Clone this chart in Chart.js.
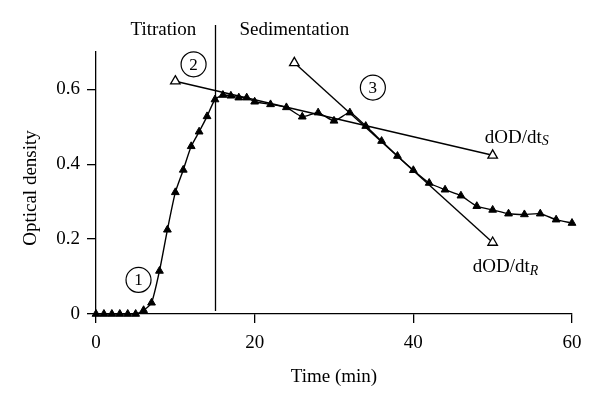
<!DOCTYPE html>
<html>
<head>
<meta charset="utf-8">
<script src="https://cdn.jsdelivr.net/npm/chart.js@4/dist/chart.umd.min.js"></script>
<style>
  body { margin: 0; background: #fff; }
  #wrap { width: 600px; height: 403px; }
</style>
</head>
<body>
<div id="wrap"><canvas id="odChart"></canvas></div>
<script>
const times = [0, 1, 2, 3, 4, 5, 6, 7, 8, 9, 10, 11, 12, 13, 14, 15, 16, 17, 18, 19, 20,
    22, 24, 26, 28, 30, 32, 34, 36, 38, 40, 42, 44, 46, 48, 50, 52, 54, 56, 58, 60]
const odValues = [0, 0, 0, 0, 0, 0, 0.01, 0.03, 0.115, 0.225, 0.325, 0.385, 0.448, 0.487, 0.528, 0.573,
    0.585, 0.583, 0.578, 0.578, 0.567,
    0.56, 0.552, 0.527, 0.538, 0.516, 0.538, 0.502, 0.462, 0.422, 0.384, 0.35, 0.332, 0.316, 0.288,
    0.278, 0.268, 0.266, 0.268, 0.252, 0.243]
// tangent lines: [start, end]
const slopeSTimes = [10, 50]
const slopeSValues = [0.622, 0.424]
const slopeRTimes = [25, 50]
const slopeRValues = [0.671, 0.191]
const yTicks = [0, 0.2, 0.4, 0.6]
const phaseSplit = 15

const FONT = "'Liberation Serif', 'DejaVu Serif', serif"

const toPoints = (xs, ys) => xs.map((x, i) => ({ x: x, y: ys[i] }))

// text, circles and phase line
const annotations = {
    id: 'annotations',
    afterDatasetsDraw(chart) {
        const { ctx, chartArea } = chart
        const xs = chart.scales.x
        const ys = chart.scales.y
        ctx.save()
        ctx.strokeStyle = '#000'
        ctx.fillStyle = '#000'
        ctx.lineWidth = 1.3

        const splitX = Math.round(xs.getPixelForValue(phaseSplit)) + 0.5
        ctx.beginPath()
        ctx.moveTo(splitX, chartArea.top - 27)
        ctx.lineTo(splitX, chartArea.bottom - 3)
        ctx.stroke()

        ctx.font = '19px ' + FONT
        ctx.textBaseline = 'middle'
        ctx.textAlign = 'center'
        ctx.fillText('Titration', xs.getPixelForValue(8.5), chartArea.top - 22)
        ctx.fillText('Sedimentation', xs.getPixelForValue(25), chartArea.top - 22)

        const circled = [['1', 5.36, 0.091], ['2', 12.3, 0.667], ['3', 34.9, 0.605]]
        ctx.lineWidth = 1.2
        circled.forEach(([label, t, v]) => {
            const cx = xs.getPixelForValue(t)
            const cy = ys.getPixelForValue(v)
            ctx.beginPath()
            ctx.arc(cx, cy, 12.5, 0, Math.PI * 2)
            ctx.stroke()
            ctx.font = '17px ' + FONT
            ctx.fillText(label, cx, cy + 1)
        })

        const rateLabel = (sub, t, v) => {
            const x = xs.getPixelForValue(t)
            const y = ys.getPixelForValue(v)
            ctx.textAlign = 'left'
            ctx.font = '19px ' + FONT
            ctx.fillText('dOD/dt', x, y)
            const w = ctx.measureText('dOD/dt').width
            ctx.font = 'italic 14px ' + FONT
            ctx.fillText(sub, x + w, y + 4)
        }
        rateLabel('S', 49, 0.471)
        rateLabel('R', 47.5, 0.125)

        ctx.translate(31, 188)
        ctx.rotate(-Math.PI / 2)
        ctx.textAlign = 'center'
        ctx.font = '19px ' + FONT
        ctx.fillText('Optical density', 0, 0)
        ctx.restore()
    }
}

const chartData = {
    datasets: [
        {
            label: 'dOD/dtS',
            data: toPoints(slopeSTimes, slopeSValues),
            borderColor: '#000',
            borderWidth: 1.4,
            pointStyle: 'triangle',
            pointRadius: 5.5,
            pointBackgroundColor: '#fff',
            pointBorderColor: '#000',
            pointBorderWidth: 1.3,
            clip: false,
        },
        {
            label: 'dOD/dtR',
            data: toPoints(slopeRTimes, slopeRValues),
            borderColor: '#000',
            borderWidth: 1.4,
            pointStyle: 'triangle',
            pointRadius: 5.5,
            pointBackgroundColor: '#fff',
            pointBorderColor: '#000',
            pointBorderWidth: 1.3,
            clip: false,
        },
        {
            label: 'Optical density',
            data: toPoints(times, odValues),
            borderColor: '#000',
            borderWidth: 1.4,
            tension: 0.2,
            pointStyle: 'triangle',
            pointRadius: 4.5,
            pointBackgroundColor: '#000',
            pointBorderColor: '#000',
            pointBorderWidth: 1,
            clip: false,
        },
    ],
}

const chartConfig = {
    type: 'line',
    data: chartData,
    options: {
        responsive: true,
        maintainAspectRatio: false,
        animation: false,
        layout: { padding: { top: 52, right: 28, bottom: 0, left: 0 } },
        plugins: { legend: { display: false }, tooltip: { enabled: false } },
        scales: {
            x: {
                type: 'linear',
                min: 0,
                max: 60,
                ticks: { stepSize: 20, color: '#000', padding: 9, font: { family: FONT, size: 19 } },
                grid: { drawOnChartArea: false, drawTicks: true, tickLength: 9, color: '#000', lineWidth: 1.3 },
                border: { display: true, color: '#000', width: 1.3 },
                title: { display: true, text: 'Time (min)', color: '#000', padding: { top: 4, bottom: 15 }, font: { family: FONT, size: 19 } },
                afterFit: scale => { scale.height = 89 },
            },
            y: {
                type: 'linear',
                min: 0,
                max: 0.7,
                afterBuildTicks: scale => { scale.ticks = yTicks.map(v => ({ value: v })) },
                ticks: { color: '#000', padding: 7, font: { family: FONT, size: 19 } },
                grid: { drawOnChartArea: false, drawTicks: true, tickLength: 9, color: '#000', lineWidth: 1.3 },
                border: { display: true, color: '#000', width: 1.3 },
                afterFit: scale => { scale.width = 96 },
            },
        },
    },
    plugins: [annotations],
}

const odChart = new Chart(document.getElementById('odChart'), chartConfig)
</script>
</body>
</html>
